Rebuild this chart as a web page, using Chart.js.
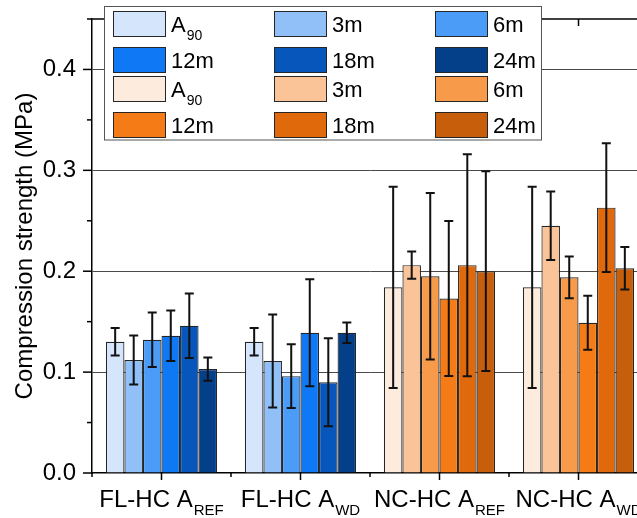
<!DOCTYPE html>
<html><head><meta charset="utf-8">
<script src="https://cdn.jsdelivr.net/npm/chart.js@4/dist/chart.umd.min.js"></script>
<style>html,body{margin:0;padding:0;overflow:hidden;background:#fff;width:637px;height:518px}
#wrap{width:648px;height:518px;position:relative}</style></head>
<body><div id="wrap"><canvas id="c" width="648" height="518"></canvas></div>
<script>
// ---- data ----
const categories = ['FL-HC A_REF', 'FL-HC A_WD', 'NC-HC A_REF', 'NC-HC A_WD'];
const ageLabels = ['A_90', '3m', '6m', '12m', '18m', '24m'];
const flCategoryIndex = [0, 1];   // blue series
const ncCategoryIndex = [2, 3];   // orange series

const meanA90 = [0.130, 0.130, 0.184, 0.184];
const mean3m  = [0.112, 0.111, 0.206, 0.245];
const mean6m  = [0.132, 0.096, 0.195, 0.194];
const mean12m = [0.136, 0.139, 0.173, 0.149];
const mean18m = [0.146, 0.090, 0.206, 0.263];
const mean24m = [0.103, 0.139, 0.200, 0.203];

const errA90 = [0.0136, 0.0136, 0.0998, 0.0998];
const err3m  = [0.0243, 0.0460, 0.0135, 0.0340];
const err6m  = [0.0270, 0.0315, 0.0826, 0.0207];
const err12m = [0.0250, 0.0530, 0.0768, 0.0268];
const err18m = [0.0320, 0.0436, 0.1100, 0.0638];
const err24m = [0.0115, 0.0101, 0.0990, 0.0211];

const yTickValues = [0, 0.05, 0.1, 0.15, 0.2, 0.25, 0.3, 0.35, 0.4, 0.45];
const yMin = 0, yMax = 0.45;

// ---- styles ----
const blueColors   = ['#d5e6fc', '#91c0f9', '#4b9cf7', '#0f78f4', '#0656bc', '#043f89'];
const orangeColors = ['#fdebdd', '#fbc498', '#f79b4b', '#f47b16', '#e06a0b', '#c65e0b'];
const FONT = "'Liberation Sans', Arial, Helvetica, sans-serif";

const means = [meanA90, mean3m, mean6m, mean12m, mean18m, mean24m];
const errs  = [errA90, err3m, err6m, err12m, err18m, err24m];

function makeSets(catIdx, colors) {
  return ageLabels.map((lab, i) => ({
    label: lab,
    data: categories.map((c, k) => catIdx.includes(k) ? means[i][k] : null),
    errors: categories.map((c, k) => catIdx.includes(k) ? errs[i][k] : null),
    backgroundColor: colors[i],
    borderColor: '#262626',
    borderWidth: 1.2,
    skipNull: true,
    categoryPercentage: 0.8,
    barPercentage: 1.0
  }));
}
const datasets = makeSets(flCategoryIndex, blueColors).concat(makeSets(ncCategoryIndex, orangeColors));

function isMajor(v) { return Math.abs(Math.round(v * 100) % 10) === 0; }
function richParts(t) { const i = t.indexOf('_'); return i < 0 ? [t, ''] : [t.slice(0, i), t.slice(i + 1)]; }
function drawRich(ctx, text, x, y, mainSize, subSize, subDrop, align) {
  const [m, s] = richParts(text);
  ctx.font = mainSize + 'px ' + FONT; const wm = ctx.measureText(m).width;
  ctx.font = subSize + 'px ' + FONT; const ws = s ? ctx.measureText(s).width + 1 : 0;
  const x0 = align === 'center' ? x - (wm + ws) / 2 : x;
  ctx.textAlign = 'left'; ctx.textBaseline = 'alphabetic'; ctx.fillStyle = '#000';
  ctx.font = mainSize + 'px ' + FONT; ctx.fillText(m, x0, y);
  if (s) { ctx.font = subSize + 'px ' + FONT; ctx.fillText(s, x0 + wm + 1, y + subDrop); }
}

const errorBarPlugin = {
  id: 'errbars',
  afterDatasetsDraw(chart) {
    const ctx = chart.ctx, ys = chart.scales.y;
    ctx.save(); ctx.strokeStyle = '#111'; ctx.lineWidth = 2;
    chart.data.datasets.forEach((ds, di) => {
      chart.getDatasetMeta(di).data.forEach((el, k) => {
        const v = ds.data[k]; if (v == null) return;
        const e = ds.errors[k];
        const t = ys.getPixelForValue(v + e), b = ys.getPixelForValue(v - e), x = el.x;
        ctx.beginPath();
        ctx.moveTo(x, t); ctx.lineTo(x, b);
        ctx.moveTo(x - 4.5, t); ctx.lineTo(x + 4.5, t);
        ctx.moveTo(x - 4.5, b); ctx.lineTo(x + 4.5, b);
        ctx.stroke();
      });
    });
    ctx.restore();
  }
};

const decorPlugin = {
  id: 'decor',
  afterDraw(chart) {
    const ctx = chart.ctx, xs = chart.scales.x, ys = chart.scales.y, a = chart.chartArea;
    ctx.save();
    ctx.strokeStyle = '#000'; ctx.lineWidth = 1.5;
    // top frame line
    const ty = ys.getPixelForValue(yMax);
    ctx.beginPath(); ctx.moveTo(a.left, ty); ctx.lineTo(a.right, ty); ctx.stroke();
    // y ticks
    yTickValues.forEach(v => {
      const py = ys.getPixelForValue(v), len = isMajor(v) ? 9 : 5;
      ctx.beginPath(); ctx.moveTo(a.left - len, py); ctx.lineTo(a.left, py); ctx.stroke();
    });
    // x ticks + labels
    categories.forEach((c, k) => {
      const px = xs.getPixelForValue(k);
      ctx.beginPath(); ctx.moveTo(px, a.bottom); ctx.lineTo(px, a.bottom + 7); ctx.stroke();
      ctx.beginPath(); ctx.moveTo(px, ty); ctx.lineTo(px, ty + 7); ctx.stroke();
      const bx = xs.getPixelForValue(k - 0.5);
      ctx.beginPath(); ctx.moveTo(bx, a.bottom); ctx.lineTo(bx, a.bottom + 4); ctx.stroke();
      drawRich(ctx, c, px, a.bottom + 34, 24, 15, 8, 'center');
    });
    // legend
    const box = {x: 104.5, y: 6.5, w: 437, h: 133.5};
    const rowTops = [11, 47, 76, 112], colLefts = [113, 274, 435];
    ctx.fillStyle = '#fff'; ctx.fillRect(box.x, box.y, box.w, box.h);
    ctx.strokeStyle = '#555'; ctx.lineWidth = 1; ctx.strokeRect(box.x, box.y, box.w, box.h);
    chart.data.datasets.forEach((ds, i) => {
      const r = Math.floor(i / 3), cidx = i % 3;
      const sx = colLefts[cidx], sy = rowTops[r];
      ctx.fillStyle = ds.backgroundColor; ctx.fillRect(sx + 0.5, sy + 0.5, 52, 25);
      ctx.strokeStyle = '#262626'; ctx.lineWidth = 1; ctx.strokeRect(sx + 0.5, sy + 0.5, 52, 25);
      drawRich(ctx, ds.label, sx + 58, sy + 20.5, 22, 14, 8, 'left');
    });
    ctx.restore();
  }
};

new Chart(document.getElementById('c'), {
  type: 'bar',
  data: { labels: categories, datasets: datasets },
  options: {
    responsive: false,
    animation: false,
    devicePixelRatio: 1,
    layout: { padding: { top: 19, right: 0, left: 0, bottom: 0 } },
    plugins: { legend: { display: false }, tooltip: { enabled: false } },
    scales: {
      x: {
        afterFit(s) { s.height = 45; s.paddingLeft = 0; s.paddingRight = 0; },
        ticks: { display: false },
        grid: { display: false },
        border: { display: true, color: '#000', width: 1.5 }
      },
      y: {
        min: yMin, max: yMax,
        afterFit(s) { s.width = 92; s.paddingTop = 0; s.paddingBottom = 0; },
        afterBuildTicks(s) { s.ticks = yTickValues.map(v => ({ value: v })); },
        ticks: {
          autoSkip: false,
          callback: v => isMajor(v) && v < yMax - 0.01 ? v.toFixed(1) : '',
          font: { family: FONT, size: 24 }, color: '#000', padding: 16
        },
        grid: {
          drawTicks: false,
          color: c => (c.tick && isMajor(c.tick.value) && c.tick.value > 0.01 && c.tick.value < yMax - 0.01) ? '#4a4a4a' : 'rgba(0,0,0,0)',
          lineWidth: 1
        },
        border: { display: true, color: '#000', width: 1.5 },
        title: { display: true, text: 'Compression strength (MPa)', font: { family: FONT, size: 24 }, color: '#000', padding: { top: 11, bottom: 0 } }
      }
    }
  },
  plugins: [errorBarPlugin, decorPlugin]
});
</script></body></html>
